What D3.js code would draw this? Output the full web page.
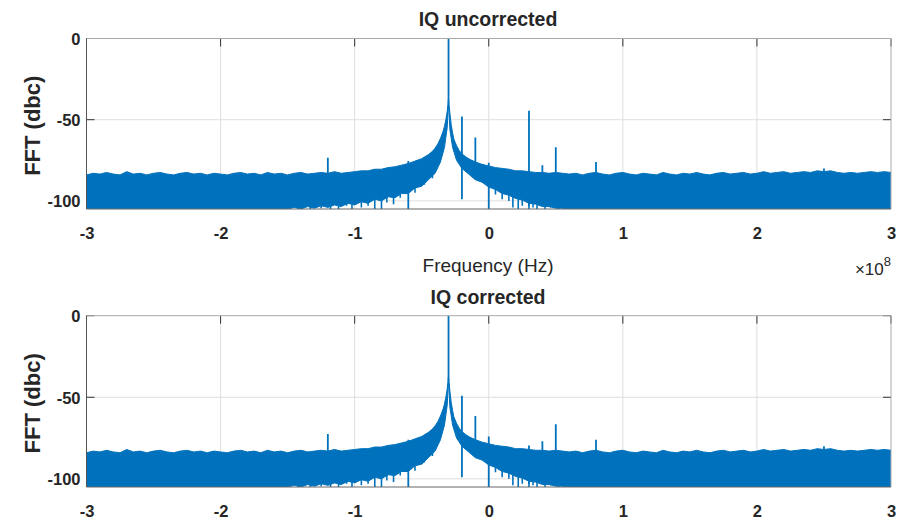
<!DOCTYPE html>
<html><head><meta charset="utf-8">
<script src="https://cdn.jsdelivr.net/npm/d3@7"></script>
<style>body{margin:0;background:#fff} text{font-family:"Liberation Sans",Arial,sans-serif;fill:#262626}</style>
</head><body><svg id="c" width="899" height="521"></svg>
<script>
// ---- data (frequency in units of 1e8 Hz, level in dBc) ----
const xTicks = [-3, -2, -1, 0, 1, 2, 3];
const yTicks = [-100, -50, 0];
const titles = ["IQ uncorrected", "IQ corrected"];

// upper edge of the noise floor
const noiseFreq = [
 -3.00,-2.95,-2.90,-2.85,-2.80,-2.75,-2.70,-2.65,-2.60,-2.55,-2.50,-2.45,-2.40,-2.35,-2.30,-2.25,-2.20,-2.15,-2.10,-2.05,
 -2.00,-1.95,-1.90,-1.85,-1.80,-1.75,-1.70,-1.65,-1.60,-1.55,-1.50,-1.45,-1.40,-1.35,-1.30,-1.25,-1.20,-1.15,-1.10,-1.05,
 -1.00,-0.95,-0.90,-0.85,-0.80,-0.75,-0.70,-0.65,-0.60,-0.55,-0.50,-0.45,-0.42,-0.40,-0.38,-0.36,-0.34,-0.33,-0.32,-0.31,
 -0.30,-0.29,-0.28,-0.27,-0.26,-0.24,-0.22,-0.20,-0.17,-0.14,-0.10,-0.05,0.00,0.05,0.10,0.15,0.20,0.25,0.30,0.35,
 0.40,0.45,0.50,0.55,0.60,0.65,0.70,0.75,0.80,0.85,0.90,0.95,1.00,1.05,1.10,1.15,1.20,1.25,1.30,1.35,
 1.40,1.45,1.50,1.55,1.60,1.65,1.70,1.75,1.80,1.85,1.90,1.95,2.00,2.05,2.10,2.15,2.20,2.25,2.30,2.35,
 2.40,2.45,2.50,2.55,2.60,2.65,2.70,2.75,2.80,2.85,2.90,2.95,3.00];
const noiseTop = [
 -84,-83,-83.5,-82.5,-83.5,-84,-82,-83.5,-83,-84,-83,-82.5,-83.5,-84,-83,-82.5,-83.5,-83,-84,-83,
 -83.5,-84,-83,-82.5,-83.5,-83,-84,-82.5,-83.5,-83,-84,-83,-82.5,-83.5,-83,-82.5,-83,-82,-83,-82.5,
 -82,-81.5,-81.5,-80.5,-80.5,-79.5,-79,-78,-77,-75.5,-74,-71.5,-69.5,-67.5,-65,-61.5,-57,-54,-50,-45,
 -37,-46,-53,-58,-62,-66,-69,-71,-73,-74.5,-76,-77.5,-78.5,-79.5,-80,-80.5,-81.5,-81.5,-82,-82.5,
 -82.5,-83,-82.5,-83,-83.5,-83,-84,-83,-82.5,-83.5,-84,-83,-82.5,-83.5,-84,-83,-83.5,-84,-82.5,-83.5,
 -84,-83,-83.5,-82.5,-83.5,-84,-83,-82.5,-83.5,-83,-82.5,-83.5,-83,-82,-83,-82.5,-82,-83,-82.5,-82,
 -82.5,-81.5,-82,-81.5,-82.5,-83,-82.5,-83,-82.5,-82,-82.5,-82,-82.5];

// lower edge of the solid noise band
const lowFreq = [-3, -1.5, -1.45, -1.4, -1.35, -1.3, -1.25, -1.2, -1.15, -1.1, -1.05, -1.0, -0.95, -0.9, -0.85, -0.8,
 -0.75, -0.7, -0.65, -0.6, -0.55, -0.5, -0.45, -0.4, -0.36, -0.33, -0.31, -0.30,
 -0.29, -0.27, -0.24, -0.2, -0.15, -0.1, -0.05, 0, 0.05, 0.1, 0.15, 0.2, 0.25, 0.3, 0.35, 0.4, 0.45, 0.5, 0.55, 0.6, 3];
const lowVal = [-105, -105, -104, -105, -103.5, -104.5, -103, -104, -102.5, -103.5, -101.5, -102.5, -100.5, -101.5, -99, -100,
 -97.5, -98, -95.5, -95.5, -92, -91, -87, -83, -76, -67, -55, -40,
 -56, -67, -75, -80, -83.5, -87, -88.5, -91.5, -93, -95.5, -96.5, -98.5, -99.5, -101.5, -102, -103.5, -103.5, -104.5, -104.5, -105, -105];

// deep noise dips below the band: [freq, from, to]
const dipFreq = [-1.42,-1.33,-1.25,-1.18,-1.12,-1.06,-1.02,-0.95,-0.9,-0.85,-0.8,-0.76,-0.71,-0.66,-0.55,-0.48,-0.42,
 0.05,0.1,0.15,0.18,0.22,0.25,0.3,0.33,0.36,0.42,0.46,0.52,0.56];
const dipFrom = [-103,-103,-102,-101,-100,-99,-98,-96,-95,-94,-93,-92,-90,-88,-84,-81,-77,
 -87,-89,-91,-92,-93,-94,-96,-97,-97,-99,-100,-102,-103];
const dipTo = [-105,-105,-104.5,-105,-105,-103,-105,-104,-103,-105,-105,-101,-102,-98,-95,-90,-86,
 -96,-99,-100,-104,-105,-103,-105,-104,-105,-105,-104,-105,-105];

// discrete spurs: frequency, peak level (uncorrected / corrected), lower end
const spurFreq = [-1.2, -0.6, -0.3, -0.2, -0.1, 0.0, 0.3, 0.4, 0.5, 0.8, 2.5];
const spurUncorrected = [-73.5, -75.5, 0, -48, -61, -76.5, -44.5, -78, -67, -76, -80];
const spurCorrected = [-72.5, -76, 0, -49, -61.5, -74, -79.5, -77, -66.5, -76, -80];
const spurBottom = [-88, -105, -40, -99, -78, -105, -103, -85, -85, -85, -85];

// ---- drawing ----
const svg = d3.select('#c');
const blue = '#0072BD';
const yMin = -105;
const x = d3.scaleLinear().domain([-3, 3]).range([86.5, 891]);
const panels = [
  {top: 38.5, bottom: 209, titleY: 26, spurs: spurUncorrected},
  {top: 315.7, bottom: 487, titleY: 304, spurs: spurCorrected}
];

panels.forEach((p, k) => {
  const y = d3.scaleLinear().domain([yMin, 0]).range([p.bottom, p.top]);
  const g = svg.append('g');
  const id = 'clip' + k;
  svg.append('clipPath').attr('id', id).append('rect')
    .attr('x', x(-3)).attr('y', p.top).attr('width', x(3) - x(-3)).attr('height', p.bottom - p.top);

  // grid
  g.selectAll('.vg').data(xTicks.slice(1, -1)).join('line')
    .attr('x1', d => x(d)).attr('x2', d => x(d)).attr('y1', p.top).attr('y2', p.bottom)
    .attr('stroke', '#dedede').attr('stroke-width', 1);
  g.selectAll('.hg').data(yTicks.slice(0, -1)).join('line')
    .attr('x1', x(-3)).attr('x2', x(3)).attr('y1', d => y(d)).attr('y2', d => y(d))
    .attr('stroke', '#dedede').attr('stroke-width', 1);
  // inward ticks
  g.selectAll('.xt').data(xTicks).join('line')
    .attr('x1', d => x(d)).attr('x2', d => x(d)).attr('y1', p.top).attr('y2', p.top + 8)
    .attr('stroke', '#333').attr('stroke-width', 1);
  g.selectAll('.ytl').data(yTicks).join('line')
    .attr('x1', x(-3)).attr('x2', x(-3) + 8).attr('y1', d => y(d)).attr('y2', d => y(d))
    .attr('stroke', '#333');
  g.selectAll('.ytr').data(yTicks).join('line')
    .attr('x1', x(3) - 8).attr('x2', x(3)).attr('y1', d => y(d)).attr('y2', d => y(d))
    .attr('stroke', '#333');

  const dg = g.append('g').attr('clip-path', `url(#${id})`);
  // noise band
  const upper = noiseFreq.map((f, i) => [f, noiseTop[i]]);
  const lower = lowFreq.map((f, i) => [f, lowVal[i]]).reverse();
  const line = d3.line().x(d => x(d[0])).y(d => y(d[1]));
  dg.append('path').attr('d', line(upper.concat(lower)) + 'Z')
    .attr('fill', blue).attr('stroke', blue).attr('stroke-width', 1).attr('stroke-linejoin', 'miter');
  // dips
  dg.selectAll('.dip').data(dipFreq).join('line')
    .attr('x1', d => x(d)).attr('x2', d => x(d))
    .attr('y1', (d, i) => y(dipFrom[i])).attr('y2', (d, i) => y(dipTo[i]))
    .attr('stroke', blue).attr('stroke-width', 1.6);
  // spurs
  dg.selectAll('.spur').data(spurFreq).join('line')
    .attr('x1', d => x(d)).attr('x2', d => x(d))
    .attr('y1', (d, i) => y(p.spurs[i])).attr('y2', (d, i) => y(spurBottom[i]))
    .attr('stroke', blue).attr('stroke-width', 1.8);

  // box
  g.append('line').attr('x1', x(-3)).attr('x2', x(3)).attr('y1', p.top).attr('y2', p.top).attr('stroke', '#aaa');
  g.append('line').attr('x1', x(3)).attr('x2', x(3)).attr('y1', p.top).attr('y2', p.bottom).attr('stroke', '#aaa');
  g.append('line').attr('x1', x(-3)).attr('x2', x(-3)).attr('y1', p.top).attr('y2', p.bottom).attr('stroke', '#555');
  g.append('line').attr('x1', x(-3)).attr('x2', x(3)).attr('y1', p.bottom).attr('y2', p.bottom).attr('stroke', '#666');

  // axes labels
  const xa = g.append('g').attr('transform', `translate(0,${p.bottom})`)
    .call(d3.axisBottom(x).tickValues(xTicks).tickSize(0).tickFormat(d => String(d)));
  xa.select('.domain').remove();
  xa.selectAll('text').attr('y', 30).attr('dy', 0)
    .style('font-size', '16.5px').style('font-weight', 'bold').style('fill', '#262626')
    .style('font-family', '"Liberation Sans",Arial,sans-serif');
  const ya = g.append('g').attr('transform', `translate(${x(-3)},0)`)
    .call(d3.axisLeft(y).tickValues(yTicks).tickSize(0).tickPadding(6).tickFormat(d => String(d)));
  ya.select('.domain').remove();
  ya.selectAll('text').attr('dy', '0.36em')
    .style('font-size', '16.5px').style('font-weight', 'bold').style('fill', '#262626')
    .style('font-family', '"Liberation Sans",Arial,sans-serif');

  // title
  svg.append('text').attr('x', 488).attr('y', p.titleY).attr('text-anchor', 'middle')
    .style('font-size', '19.5px').style('font-weight', 'bold').text(titles[k]);
  // y label
  const cy = (p.top + p.bottom) / 2 + 2;
  svg.append('text').attr('transform', `translate(40,${cy}) rotate(-90)`).attr('text-anchor', 'middle')
    .style('font-size', '22px').style('font-weight', 'bold').text('FFT (dbc)');
});

// x label and exponent for top panel
svg.append('text').attr('x', 488).attr('y', 272).attr('text-anchor', 'middle')
  .style('font-size', '19px').text('Frequency (Hz)');
const ex = svg.append('text').attr('x', 891).attr('y', 275).attr('text-anchor', 'end').style('font-size', '17px');
ex.append('tspan').text('\u00d710');
ex.append('tspan').attr('dy', -9).style('font-size', '13px').text('8');
</script></body></html>
